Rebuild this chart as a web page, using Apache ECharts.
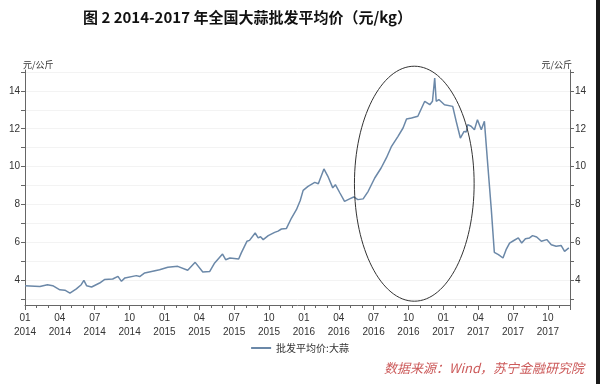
<!DOCTYPE html>
<html>
<head>
<meta charset="utf-8">
<script src="https://cdn.jsdelivr.net/npm/echarts@6/dist/echarts.min.js"></script>
<style>
html,body{margin:0;padding:0;background:#fff;}
#c{width:600px;height:384px;}
#edge{position:absolute;left:596px;top:0;width:4px;height:384px;background:#1a1a1a;}
</style>
</head>
<body>
<div id="c"></div>
<div id="edge"></div>
<script>
const titleText = '图 2 2014-2017 年全国大蒜批发平均价（元/kg）';
const seriesName = '批发平均价:大蒜';
const unitName = '元/公斤';
const sourceText = '数据来源：Wind，苏宁金融研究院';
const yTickLabels = [4, 6, 8, 10, 12, 14];
const yTickMarks = [3, 4, 5, 6, 7, 8, 9, 10, 11, 12, 13, 14, 15];
const dates = [
 '2014-01-01','2014-02-09','2014-02-27','2014-03-13','2014-04-01','2014-04-14','2014-04-27','2014-05-14','2014-05-27','2014-06-03',
 '2014-06-10','2014-06-23','2014-07-14','2014-07-27','2014-08-18','2014-09-01','2014-09-10','2014-09-19','2014-10-19','2014-10-28',
 '2014-11-10','2014-12-19','2015-01-10','2015-01-15','2015-02-05','2015-03-01','2015-03-21','2015-04-10','2015-04-28','2015-05-11',
 '2015-06-01','2015-06-09','2015-06-20','2015-07-13','2015-07-20','2015-08-04','2015-08-11','2015-08-26','2015-09-03','2015-09-09',
 '2015-09-16','2015-09-29','2015-10-16','2015-10-25','2015-11-03','2015-11-16','2015-11-29','2015-12-12','2015-12-22','2015-12-30',
 '2016-01-12','2016-01-16','2016-01-30','2016-02-08','2016-02-22','2016-03-03','2016-03-16','2016-03-23','2016-04-04','2016-04-16',
 '2016-04-29','2016-05-10','2016-05-21','2016-06-04','2016-06-17','2016-07-04','2016-07-21','2016-08-04','2016-08-17','2016-09-04',
 '2016-09-17','2016-09-26','2016-10-09','2016-10-26','2016-11-13','2016-11-26','2016-12-03','2016-12-09','2016-12-13','2016-12-20',
 '2017-01-04','2017-01-26','2017-02-04','2017-02-14','2017-02-23','2017-02-28','2017-03-04','2017-03-13','2017-03-22','2017-03-30',
 '2017-04-09','2017-04-17','2017-04-26','2017-05-05','2017-05-13','2017-05-24','2017-06-05','2017-06-13','2017-06-22','2017-07-02',
 '2017-07-15','2017-07-24','2017-08-03','2017-08-14','2017-08-22','2017-09-02','2017-09-14','2017-09-28','2017-10-10','2017-10-23',
 '2017-11-05','2017-11-14','2017-11-25'
];
const prices = [
 3.72,3.68,3.77,3.72,3.50,3.48,3.33,3.55,3.77,4.00,
 3.72,3.65,3.86,4.04,4.07,4.21,3.95,4.13,4.25,4.20,
 4.39,4.56,4.69,4.74,4.74,4.53,4.95,4.44,4.47,4.92,
 5.39,5.09,5.18,5.13,5.45,6.06,6.11,6.50,6.24,6.30,
 6.15,6.36,6.53,6.60,6.71,6.74,7.29,7.73,8.20,8.75,
 8.96,9.05,9.17,9.10,9.88,9.49,8.88,9.05,8.61,8.17,
 8.30,8.40,8.26,8.30,8.70,9.40,9.93,10.46,11.04,11.60,
 12.04,12.52,12.57,12.66,13.45,13.27,13.45,14.68,13.45,13.54,
 13.27,13.18,12.39,11.51,11.86,11.82,12.22,12.13,11.95,12.48,
 11.95,12.39,10.02,7.73,5.48,5.36,5.18,5.62,5.97,6.09,
 6.24,5.97,6.20,6.24,6.36,6.29,6.06,6.15,5.88,5.80,
 5.84,5.53,5.71
];

function monthIndex(s){
  const [y,m,d] = s.split('-').map(Number);
  const dim = new Date(y, m, 0).getDate();
  return (y-2014)*12 + (m-1) + (d-1)/dim;
}
const data = dates.map((d,i)=>[monthIndex(d), prices[i]]);

const chart = echarts.init(document.getElementById('c'), null, {renderer:'canvas'});
const axisColor = '#666';
const labelFont = {fontFamily:'"Liberation Sans", Arial, sans-serif', fontSize:10, color:'#333'};
function yAxis(pos){
  return {
    type:'value', position:pos, min:2.7, max:15.1,
    name:unitName, nameLocation:'end', nameGap:1,
    nameTextStyle:{fontFamily:'"Noto Sans CJK SC", sans-serif', fontSize:9, color:'#333',
      align: pos==='left'?'left':'right', verticalAlign:'bottom', padding: pos==='left'?[0,0,0,-2]:[0,-2,0,0]},
    axisLine:{show:true, lineStyle:{color:axisColor, width:1}},
    axisTick:{show:true, length:4, customValues:yTickMarks, lineStyle:{color:axisColor}},
    axisLabel:Object.assign({customValues:yTickLabels, margin:5}, labelFont),
    splitLine:{show: pos==='left', lineStyle:{color:'#f3f3f3', width:1}}
  };
}
chart.setOption({
  animation:false,
  backgroundColor:'#fff',
  title:{text:titleText, left:78, top:5,
    textStyle:{fontFamily:'"Noto Sans CJK SC", sans-serif', fontWeight:'bold', fontSize:15, color:'#111'}},
  legend:{show:true, bottom:26, left:'center', itemWidth:20, itemHeight:2, itemGap:4,
    icon:'rect',
    textStyle:{fontFamily:'"Noto Sans CJK SC", sans-serif', fontSize:10, color:'#333'},
    data:[seriesName]},
  grid:{left:25, right:30, top:70, bottom:79},
  xAxis:{type:'value', min:0, max:46.9, interval:3,
    axisLine:{show:true, onZero:false, lineStyle:{color:axisColor}},
    axisTick:{show:true, length:5, lineStyle:{color:axisColor}},
    minorTick:{show:true, splitNumber:3, length:3, lineStyle:{color:axisColor}},
    splitLine:{show:false},
    axisLabel:Object.assign({margin:6, lineHeight:14, showMaxLabel:false,
      formatter:function(v){
        const k = Math.round(v);
        if (Math.abs(v-k)>1e-6 || k%3!==0 || k>45) return '';
        const mo = (k%12)+1, yr = 2014+Math.floor(k/12);
        return (mo<10?'0':'')+mo+'\n'+yr;
      }}, labelFont)
  },
  yAxis:[yAxis('left'), yAxis('right')],
  series:[{name:seriesName, type:'line', data:data, yAxisIndex:0, showSymbol:false,
    lineStyle:{color:'#6b88a8', width:1.5}, itemStyle:{color:'#6b88a8'}}]
});

// annotation ellipse around the 2016 surge, placed in data coordinates
const c0 = chart.convertToPixel({gridIndex:0}, [33.5, 9.1]);
const c1 = chart.convertToPixel({gridIndex:0}, [33.5+5.15, 9.1+6.2]);
chart.setOption({
  graphic:[
    {type:'ellipse', shape:{cx:c0[0], cy:c0[1], rx:Math.abs(c1[0]-c0[0]), ry:Math.abs(c1[1]-c0[1])},
      style:{fill:'none', stroke:'#333', lineWidth:1}, z:10},
    {type:'text', right:16, bottom:9,
      style:{text:sourceText, fill:'#cc5a5a', font:'italic 13px "Noto Sans CJK SC", sans-serif'}}
  ]
});
</script>
</body>
</html>
